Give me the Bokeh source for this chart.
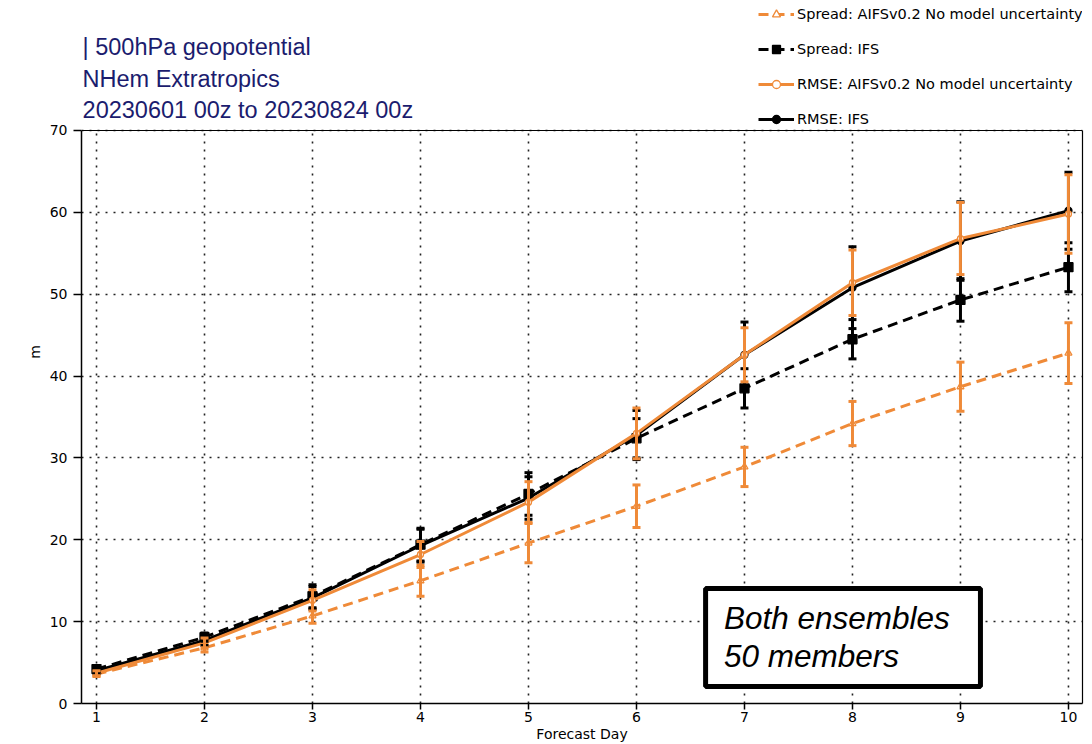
from bokeh.plotting import figure
from bokeh.models import (Range1d, Label, Legend, LegendItem, Whisker, TeeHead,
                          ColumnDataSource, BoxAnnotation, FixedTicker, Span,
                          LinearAxis)
from bokeh.embed import file_html
from bokeh.resources import INLINE

# ---- data ----
days = [1, 2, 3, 4, 5, 6, 7, 8, 9, 10]
spread_aifs = [3.6, 6.8, 10.7, 15.0, 19.6, 24.1, 28.9, 34.2, 38.7, 42.8]
spread_aifs_err = [0.3, 0.5, 0.9, 1.9, 2.4, 2.6, 2.4, 2.7, 3.0, 3.7]
spread_ifs = [4.2, 8.1, 13.1, 19.4, 25.6, 32.4, 38.5, 44.5, 49.3, 53.3]
spread_ifs_err = [0.3, 0.5, 1.4, 2.0, 2.6, 2.4, 2.4, 2.4, 2.6, 3.0]
rmse_aifs = [3.7, 7.4, 12.6, 18.2, 24.6, 33.0, 42.6, 51.4, 56.8, 59.8]
rmse_aifs_err = [0.3, 0.6, 1.3, 1.6, 2.5, 3.1, 3.3, 4.0, 4.4, 4.8]
rmse_ifs = [4.0, 7.7, 12.9, 19.3, 25.1, 32.8, 42.6, 50.8, 56.5, 60.2]
rmse_ifs_err = [0.3, 0.6, 1.4, 2.0, 2.6, 3.0, 4.0, 5.0, 4.8, 4.7]
y_ticks = [0, 10, 20, 30, 40, 50, 60, 70]
title_lines = ["| 500hPa geopotential", "NHem Extratropics", "20230601 00z to 20230824 00z"]
legend_labels = ["Spread: AIFSv0.2 No model uncertainty", "Spread: IFS",
                 "RMSE: AIFSv0.2 No model uncertainty", "RMSE: IFS"]
box_lines = ["Both ensembles", "50 members"]

ORANGE = "#ef8a38"
BLACK = "#000000"
NAVY = "#1b1c6e"
Y_MIN, Y_MAX = y_ticks[0], y_ticks[-1]

# frame spans the whole page height; the data area is 0..70 (top at 130 px)
p = figure(width=1092, height=744, output_backend="svg", toolbar_location=None,
           x_range=Range1d(0.861, 10.13), y_range=Range1d(0, 85.88),
           min_border_left=81, min_border_right=10, min_border_top=0,
           min_border_bottom=41)
p.background_fill_color = "white"
p.border_fill_color = "white"
p.outline_line_color = None

# axes
p.xaxis.ticker = FixedTicker(ticks=days)
p.yaxis.ticker = FixedTicker(ticks=y_ticks)
p.yaxis.bounds = (Y_MIN, Y_MAX)
for ax in (p.xaxis[0], p.yaxis[0]):
    ax.axis_line_width = 1.5
    ax.axis_line_color = "black"
    ax.major_tick_in = 0
    ax.minor_tick_line_color = None
    ax.major_tick_line_width = 1.5
    ax.major_label_text_font = "DejaVu Sans"
    ax.major_label_text_color = "black"
    ax.axis_label_text_font = "DejaVu Sans"
    ax.axis_label_text_font_style = "normal"
    ax.axis_label_text_color = "black"
p.xaxis.major_tick_out = 6
p.xaxis.major_label_standoff = 2
p.xaxis.major_label_text_font_size = "14px"
p.xaxis.axis_label = "Forecast Day"
p.xaxis.axis_label_text_font_size = "14px"
p.xaxis.axis_label_standoff = 1
p.yaxis.major_tick_out = 8
p.yaxis.major_label_standoff = 6
p.yaxis.major_label_text_font_size = "14px"
p.yaxis.axis_label = "m"
p.yaxis.axis_label_text_font_size = "14px"
p.yaxis.axis_label_standoff = 4

# right border as a bare axis, top border as a span
rax = LinearAxis(bounds=(Y_MIN, Y_MAX), ticker=FixedTicker(ticks=[]),
                 axis_line_color="black", axis_line_width=1.2,
                 major_tick_line_color=None, minor_tick_line_color=None,
                 major_label_text_font_size="0px")
p.add_layout(rax, "right")
p.add_layout(Span(location=Y_MAX, dimension="width", line_color="black",
                  line_width=1.2))

# grid: horizontal via Grid, vertical as dotted segments limited to the data area
p.ygrid.grid_line_color = "#222222"
p.ygrid.grid_line_width = 1.6
p.ygrid.grid_line_dash = "2 6"
p.xgrid.visible = False
p.segment(x0=days, y0=[Y_MIN] * len(days), x1=days, y1=[Y_MAX] * len(days),
          line_color="#222222", line_width=1.6, line_dash="2 6")

# series
series = [
    (spread_aifs, spread_aifs_err, ORANGE, "10 6", "triangle", "white", 7),
    (spread_ifs, spread_ifs_err, BLACK, "10 6", "square", BLACK, 9),
    (rmse_ifs, rmse_ifs_err, BLACK, "solid", "circle", BLACK, 7),
    (rmse_aifs, rmse_aifs_err, ORANGE, "solid", "circle", "white", 6),
]
renderers = []
for vals, errs, col, dash, mk, fill, size in series:
    src = ColumnDataSource(dict(x=days, y=vals,
                                lo=[v - e for v, e in zip(vals, errs)],
                                hi=[v + e for v, e in zip(vals, errs)]))
    w = Whisker(base="x", lower="lo", upper="hi", source=src,
                line_color=col, line_width=3,
                upper_head=TeeHead(size=8, line_color=col, line_width=3),
                lower_head=TeeHead(size=8, line_color=col, line_width=3),
                level="glyph")
    p.add_layout(w)
    lr = p.line("x", "y", source=src, line_color=col, line_width=3, line_dash=dash)
    sr = p.scatter("x", "y", source=src, marker=mk, size=size, line_color=col,
                   fill_color=fill, line_width=1.3)
    renderers.append([lr, sr])

items = [
    LegendItem(label=legend_labels[0], renderers=renderers[0]),
    LegendItem(label=legend_labels[1], renderers=renderers[1]),
    LegendItem(label=legend_labels[2], renderers=renderers[3]),
    LegendItem(label=legend_labels[3], renderers=renderers[2]),
]
legend = Legend(items=items, location=(677, 574), padding=0, margin=0,
                spacing=15, glyph_width=36, glyph_height=20, label_height=20,
                label_standoff=3, label_text_font="DejaVu Sans",
                label_text_font_size="14.5px", label_text_color="black",
                background_fill_alpha=0, border_line_alpha=0)
p.add_layout(legend, "center")

# title lines
for txt, yv in zip(title_lines, [80.25, 76.35, 72.45]):
    p.add_layout(Label(x=0.871, y=yv, text=txt, text_font="Liberation Sans",
                       text_font_size="23.5px", text_color=NAVY,
                       text_baseline="middle", text_align="left"))

# annotation box
p.add_layout(BoxAnnotation(left=6.64, right=9.185, bottom=2.08, top=14.05,
                           fill_color="white", fill_alpha=1.0,
                           line_color="black", line_width=5, line_alpha=1.0))
for txt, yv in zip(box_lines, [10.4, 5.75]):
    p.add_layout(Label(x=6.81, y=yv, text=txt, text_font="Liberation Sans",
                       text_font_style="italic", text_font_size="31.5px",
                       text_color="black", text_baseline="middle"))

open("out.html", "w").write(file_html(p, INLINE))
